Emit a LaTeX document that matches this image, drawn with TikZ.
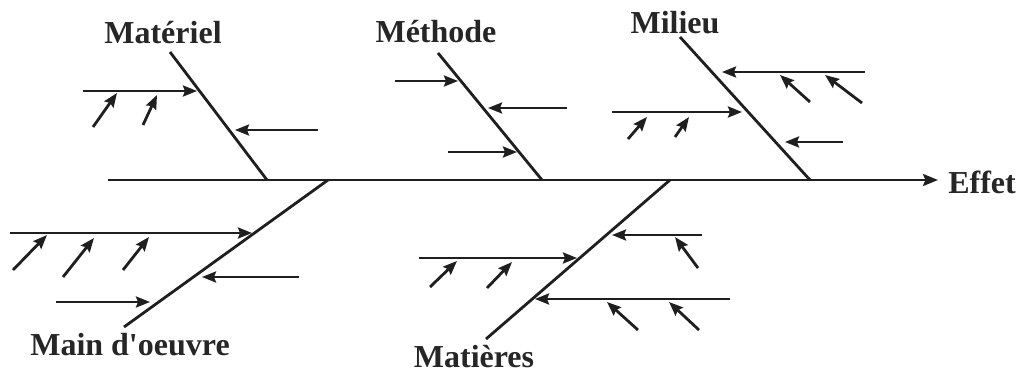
\documentclass[tikz,border=0pt]{standalone}
\usepackage{fontspec}
\setmainfont{Liberation Serif}
\usetikzlibrary{arrows.meta}
\begin{document}
\begin{tikzpicture}[x=0.5pt,y=-0.5pt,
  ink/.style={draw=black!88},
  tip/.tip={Stealth[length=7pt,width=5.5pt,inset=1pt]},
  spine/.style={ink, line width=1.2pt, -{Stealth[length=7.5pt,width=6pt,inset=1.2pt]}},
  bone/.style={ink, line width=1.4pt},
  cause/.style={ink, line width=1.3pt, -tip},
  sub/.style={ink, line width=1.4pt, -tip},
  lbl/.style={font=\bfseries\fontsize{16}{18}\selectfont, inner sep=0pt, text=black!85}]
\useasboundingbox (0,0) rectangle (1026,374);

% spine and effect
\coordinate (s0) at (108,180);
\node[lbl] (effet) at (982,182) {Effet};
\draw[spine] (s0) -- (938,180) coordinate (s1);

% Materiel
\node[lbl] (materiel) at (163,33) {Matériel};
\coordinate (mat-t) at (170,52); \coordinate (mat-b) at (267,180);
\draw[bone] (mat-t) -- (mat-b);
\draw[cause] (83,91) -- (197,91);
\draw[sub] (93,127) -- (117,93);
\draw[sub] (143,125) -- (157,95);
\draw[cause] (318,130) -- (235,130);

% Methode
\node[lbl] (methode) at (436,32) {Méthode};
\coordinate (met-t) at (438,53); \coordinate (met-b) at (542,180);
\draw[bone] (met-t) -- (met-b);
\draw[cause] (395,81) -- (458,81);
\draw[cause] (567,108) -- (488,108);
\draw[cause] (448,152) -- (517,152);

% Milieu
\node[lbl] (milieu) at (675,23) {Milieu};
\coordinate (mil-t) at (680,37); \coordinate (mil-b) at (810,180);
\draw[bone] (mil-t) -- (mil-b);
\draw[cause] (865,72) -- (722,72);
\draw[sub] (810,102) -- (780,75);
\draw[sub] (862,103) -- (825,75);
\draw[cause] (612,112) -- (742,112);
\draw[sub] (628,139) -- (647,117);
\draw[sub] (675,137) -- (689,117);
\draw[cause] (843,142) -- (785,142);

% Main d'oeuvre
\node[lbl] (main) at (130,345) {Main d\textquotesingle oeuvre};
\coordinate (mo-t) at (328,180); \coordinate (mo-b) at (124,327);
\draw[bone] (mo-t) -- (mo-b);
\draw[cause] (10,233) -- (252,233);
\draw[sub] (13,270) -- (47,235);
\draw[sub] (63,277) -- (94,238);
\draw[sub] (123,270) -- (149,237);
\draw[cause] (299,277) -- (202,277);
\draw[cause] (56,302) -- (150,302);

% Matieres
\node[lbl] (matieres) at (474,357) {Matières};
\coordinate (mt-t) at (670,180); \coordinate (mt-b) at (486,339);
\draw[bone] (mt-t) -- (mt-b);
\draw[cause] (702,235) -- (612,235);
\draw[sub] (698,268) -- (675,237);
\draw[cause] (419,258) -- (577,258);
\draw[sub] (430,287) -- (457,261);
\draw[sub] (487,288) -- (512,262);
\draw[cause] (730,299) -- (535,299);
\draw[sub] (638,330) -- (607,302);
\draw[sub] (699,330) -- (669,302);
\end{tikzpicture}
\end{document}
